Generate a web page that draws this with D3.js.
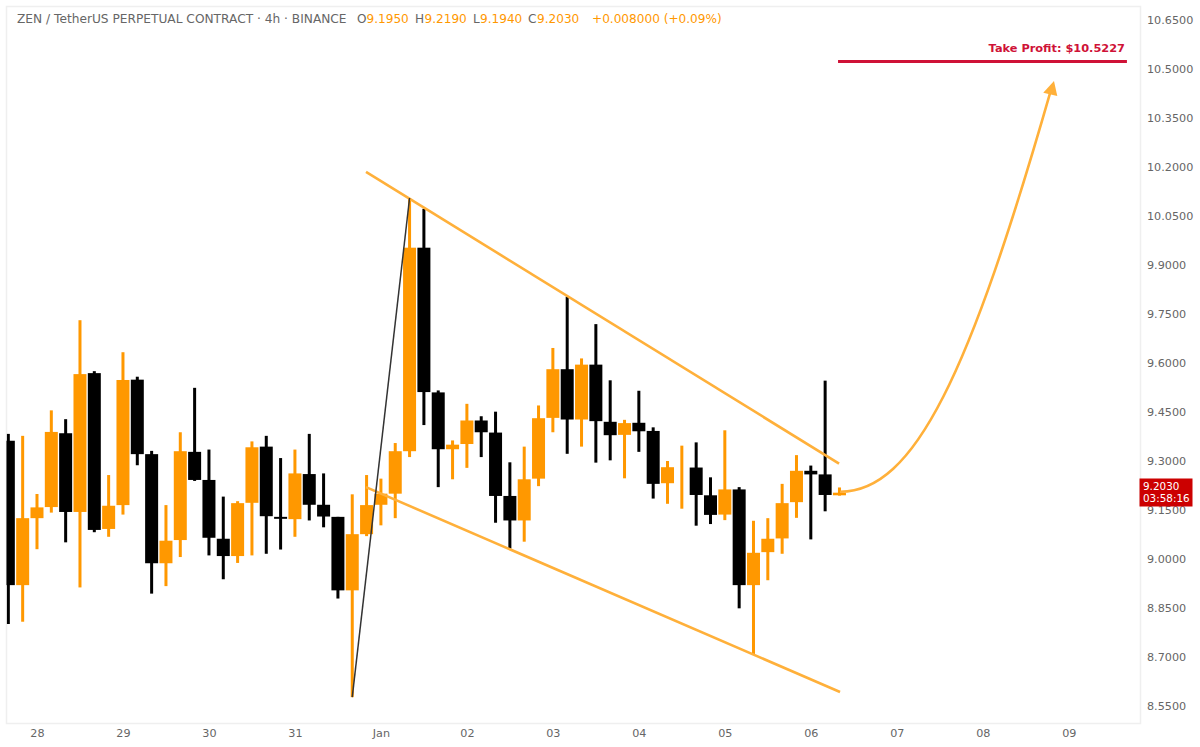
<!DOCTYPE html>
<html>
<head>
<meta charset="utf-8">
<script src="https://cdn.jsdelivr.net/npm/d3@7"></script>
<style>
html, body { margin: 0; padding: 0; background: #fff; }
svg { display: block; font-family: "DejaVu Sans", sans-serif; }
</style>
</head>
<body>
<script>
// one entry per 4h bar
var opens = [9.362,8.920,9.125,9.159,9.385,9.144,9.569,9.092,9.165,9.549,9.321,8.987,9.058,9.328,9.242,9.062,9.009,9.172,9.344,9.129,
    9.122,9.260,9.166,9.129,8.904,9.076,9.166,9.200,9.330,9.953,9.510,9.336,9.352,9.424,9.387,9.193,9.118,9.246,9.432,9.581,
    9.427,9.595,9.420,9.380,9.417,9.392,9.232,9.282,9.280,9.195,9.136,9.213,8.920,9.021,9.063,9.174,9.270,9.259,9.195];
var highs = [9.383,9.377,9.199,9.455,9.428,9.731,9.575,9.257,9.633,9.558,9.331,9.165,9.388,9.524,9.335,9.191,9.177,9.360,9.377,9.309,
    9.335,9.383,9.262,9.129,9.198,9.257,9.246,9.355,10.103,10.072,9.516,9.363,9.475,9.437,9.451,9.296,9.344,9.470,9.646,9.803,
    9.614,9.719,9.547,9.426,9.515,9.403,9.300,9.347,9.357,9.250,9.394,9.220,9.117,9.125,9.230,9.318,9.286,9.546,9.219];
var lows = [8.801,8.808,9.030,9.142,9.051,8.913,9.082,9.068,9.136,9.287,8.894,8.917,9.006,9.239,9.011,8.938,8.988,9.011,9.016,9.029,
    9.068,9.118,9.097,8.879,8.577,9.070,9.103,9.125,9.312,9.410,9.220,9.244,9.279,9.312,9.111,9.032,9.053,9.223,9.388,9.322,
    9.344,9.295,9.302,9.247,9.328,9.185,9.169,9.154,9.102,9.107,9.119,8.849,8.709,8.935,9.016,9.126,9.060,9.146,9.194];
var closes = [8.920,9.125,9.158,9.389,9.144,9.566,9.089,9.163,9.548,9.321,8.987,9.056,9.330,9.242,9.065,9.009,9.171,9.342,9.131,9.123,
    9.262,9.166,9.130,8.904,9.076,9.165,9.200,9.330,9.953,9.511,9.336,9.350,9.424,9.388,9.193,9.118,9.244,9.431,9.581,9.427,
    9.595,9.422,9.379,9.416,9.391,9.230,9.281,9.282,9.196,9.135,9.213,8.920,9.019,9.062,9.171,9.270,9.259,9.196,9.203];

var dayTickBars = [2,8,14,20,26,32,38,44,50,56,62,68,74];
var dayTickLabels = ["28","29","30","31","Jan","02","03","04","05","06","07","08","09"];
var priceTicks = [8.55,8.7,8.85,9,9.15,9.3,9.45,9.6,9.75,9.9,10.05,10.2,10.35,10.5,10.65];

// drawings, as [bar, price]
var upperTrend = [[24.96,10.185],[57.97,9.292]];
var lowerTrend = [[24.96,9.220],[58.04,8.593]];
var swingLine = [[24,8.577],[28,10.105]];
var takeProfitLine = [[57.9,10.5227],[78.06,10.5227]];
var targetCurve = [[58.04,9.206],[63.27,9.205],[67.11,9.572],[72.76,10.436]]; // start, two controls, end
var arrowHead = [[72.97,10.463],[72.22,10.427],[73.2,10.417]];

var headerName = "ZEN / TetherUS PERPETUAL CONTRACT · 4h · BINANCE";
var headerParts = [["O",357,"#666"],["9.1950",366.5,"#ff9800"],["H",415,"#666"],["9.2190",424.5,"#ff9800"],
    ["L",473,"#666"],["9.1940",480,"#ff9800"],["C",528,"#666"],["9.2030",537,"#ff9800"],["+0.008000 (+0.09%)",592,"#ff9800"]];

var upColor = "#ff9800", downColor = "#000", drawColor = "#ffb03a", tpColor = "#cf1237";
var W = 1200, H = 747;
var left = 6.5, right = 1140.5, top_ = 6.5, bottom = 723.5;

var svg = d3.select("body").append("svg").attr("width", W).attr("height", H);

var x = d3.scaleLinear().domain([0, 79]).range([8.33, 8.33 + 79 * 14.33]);
var y = d3.scaleLinear().domain([8.55, 10.65]).range([706, 20]);

var line = d3.line().x(function(d){ return x(d[0]); }).y(function(d){ return y(d[1]); });

svg.append("clipPath").attr("id", "plot").append("rect")
    .attr("x", left).attr("y", top_).attr("width", right - left).attr("height", bottom - top_);

svg.append("rect")
    .attr("x", left).attr("y", top_).attr("width", right - left).attr("height", bottom - top_)
    .attr("fill", "#fff").attr("stroke", "#efefef").attr("stroke-width", 1.5);

var plot = svg.append("g").attr("clip-path", "url(#plot)");

var bars = plot.selectAll("g.bar").data(d3.range(opens.length)).enter().append("g").attr("class", "bar");

bars.append("rect")
    .attr("x", function(i){ return x(i) - 1.5; })
    .attr("width", 3)
    .attr("y", function(i){ return y(highs[i]); })
    .attr("height", function(i){ return y(lows[i]) - y(highs[i]); })
    .attr("fill", function(i){ return closes[i] >= opens[i] ? upColor : downColor; });

bars.append("rect")
    .attr("x", function(i){ return x(i) - 6.5; })
    .attr("width", 13)
    .attr("y", function(i){ return y(Math.max(opens[i], closes[i])); })
    .attr("height", function(i){ return Math.abs(y(opens[i]) - y(closes[i])); })
    .attr("fill", function(i){ return closes[i] >= opens[i] ? upColor : downColor; });

plot.append("path").attr("d", line(upperTrend)).attr("fill", "none").attr("stroke", drawColor).attr("stroke-width", 2.6);
plot.append("path").attr("d", line(lowerTrend)).attr("fill", "none").attr("stroke", drawColor).attr("stroke-width", 2.6);
plot.append("path").attr("d", line(swingLine)).attr("fill", "none").attr("stroke", "#333").attr("stroke-width", 1.5);

var curvePath = d3.path();
curvePath.moveTo(x(targetCurve[0][0]), y(targetCurve[0][1]));
curvePath.bezierCurveTo(x(targetCurve[1][0]), y(targetCurve[1][1]),
    x(targetCurve[2][0]), y(targetCurve[2][1]),
    x(targetCurve[3][0]), y(targetCurve[3][1]));
plot.append("path").attr("d", curvePath.toString())
    .attr("fill", "none").attr("stroke", drawColor).attr("stroke-width", 2.6);
plot.append("path").attr("d", line(arrowHead) + "Z").attr("fill", drawColor);

plot.append("path").attr("d", line(takeProfitLine)).attr("stroke", tpColor).attr("stroke-width", 3);
plot.append("text")
    .attr("x", 1125).attr("y", 52)
    .attr("text-anchor", "end").attr("font-size", 11.35).attr("font-weight", "bold")
    .attr("fill", tpColor).text("Take Profit: $10.5227");

var yAxis = d3.axisRight(y).tickValues(priceTicks).tickSize(0).tickPadding(0)
    .tickFormat(function(d){ return d.toFixed(4); });
var yG = svg.append("g").attr("transform", "translate(1147,0)").call(yAxis);
yG.select(".domain").remove();
yG.selectAll("text").attr("font-family", "DejaVu Sans").attr("font-size", 11.2).attr("fill", "#666");

var xAxis = d3.axisBottom(x).tickValues(dayTickBars).tickSize(0).tickPadding(0)
    .tickFormat(function(d, i){ return dayTickLabels[i]; });
var xG = svg.append("g").attr("transform", "translate(0,729)").call(xAxis);
xG.select(".domain").remove();
xG.selectAll("text").attr("font-family", "DejaVu Sans").attr("font-size", 11.2).attr("fill", "#666");

svg.append("text").attr("x", 17).attr("y", 23).attr("font-size", 12.2).attr("fill", "#666").text(headerName);
svg.selectAll("text.head").data(headerParts).enter().append("text")
    .attr("class", "head")
    .attr("x", function(d){ return d[1]; }).attr("y", 23)
    .attr("font-size", 12.1).attr("fill", function(d){ return d[2]; })
    .text(function(d){ return d[0]; });

// last price tag
svg.append("rect").attr("x", 1139.5).attr("y", 478.5).attr("width", 53).attr("height", 28).attr("fill", "#cc0000");
svg.append("text").attr("x", 1143).attr("y", 490).attr("font-size", 10.4).attr("fill", "#fff").text(closes[closes.length - 1].toFixed(4));
svg.append("text").attr("x", 1143).attr("y", 502).attr("font-size", 10.4).attr("fill", "#fff").text("03:58:16");
</script>
</body>
</html>
